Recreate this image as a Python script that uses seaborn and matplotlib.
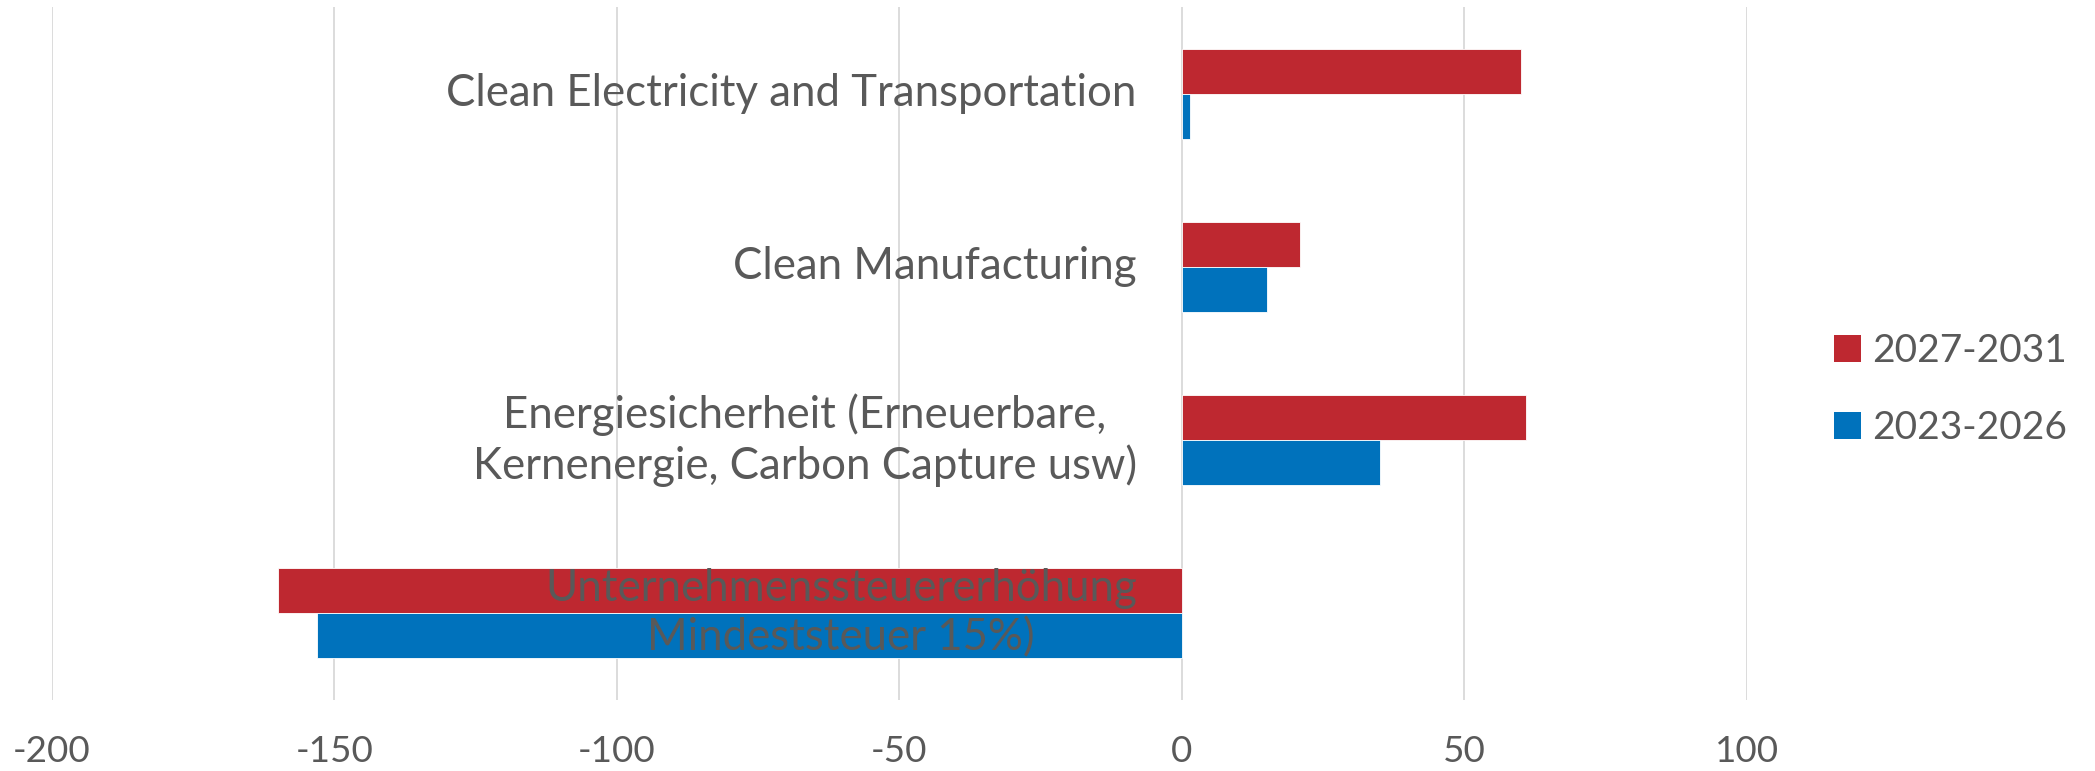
import pandas as pd
import seaborn as sns
import matplotlib.pyplot as plt
from matplotlib.patches import Patch

sns.set_style('white')
plt.rcParams['font.family'] = ['Lato', 'DejaVu Sans']

# Chart data
categories = [
    "Clean Electricity and Transportation",
    "Clean Manufacturing",
    "Energiesicherheit (Erneuerbare,\nKernenergie, Carbon Capture usw)",
    "Unternehmenssteuererhöhung\nMindeststeuer 15%)",
]
series_names = ["2027-2031", "2023-2026"]
values_2027_2031 = [60, 21, 61, -160]
values_2023_2026 = [1.5, 15, 35, -153]
x_ticks = [-200, -150, -100, -50, 0, 50, 100]

colors = {"2027-2031": "#BE2830", "2023-2026": "#0072BC"}
text_grey = "#595959"

# Long format table for seaborn
df = pd.DataFrame({
    'category': categories * 2,
    'period': [series_names[0]] * len(categories) + [series_names[1]] * len(categories),
    'value': values_2027_2031 + values_2023_2026,
})

fig = plt.figure(figsize=(20.95, 7.71), dpi=100)
ax = fig.add_axes([0.0248, 0.092, 0.809, 0.899])

sns.barplot(data=df, y='category', x='value', hue='period', order=categories,
            hue_order=series_names, palette=colors, saturation=1, orient='h', width=0.52,
            edgecolor='white', linewidth=0.6, legend=False, ax=ax, zorder=2)

# Axis limits and grid
ax.set_xlim(-200, 100)
ax.set_xticks(x_ticks)
ax.set_xticklabels([str(t) for t in x_ticks], fontsize=26.5, color=text_grey)
ax.tick_params(axis='x', length=0, pad=25)
ax.xaxis.grid(True, color='#D9D9D9', linewidth=1.3, zorder=0)
ax.set_axisbelow(True)
for side in ['top', 'right', 'left', 'bottom']:
    ax.spines[side].set_visible(False)

# Category labels sit next to the zero line
ax.set_yticks([])
ax.set_ylabel('')
ax.set_xlabel('')
for i, cat in enumerate(categories):
    ax.text(-8, i, cat, ha='right', va='center', multialignment='center',
            fontsize=31.5, color=text_grey, zorder=5, linespacing=1.25)

# Legend on the right
handles = [Patch(facecolor=colors[s], edgecolor='none') for s in series_names]
fig.legend(handles, series_names, loc='center left', bbox_to_anchor=(0.866, 0.495),
           frameon=False, fontsize=28, labelcolor=text_grey, handlelength=0.7,
           handleheight=0.7, handletextpad=0.3, labelspacing=1.05, borderpad=0)

plt.savefig('out.png', dpi=100)
